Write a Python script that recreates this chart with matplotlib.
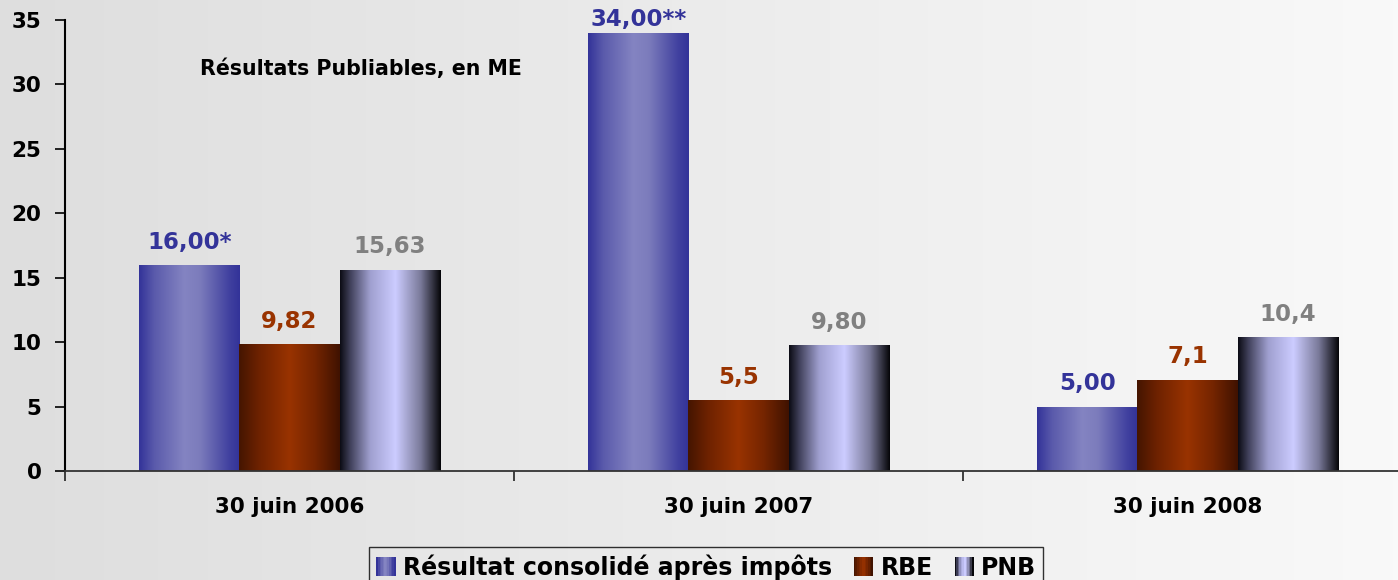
import numpy as np
import matplotlib
import matplotlib.pyplot as plt
from matplotlib.colors import LinearSegmentedColormap
from matplotlib.patches import Patch, Rectangle
from matplotlib.legend_handler import HandlerPatch

matplotlib.use("Agg")

plt.rcParams['font.family'] = ['DejaVu Sans']
plt.rcParams['font.weight'] = 'bold'

categories = ["30 juin 2006", "30 juin 2007", "30 juin 2008"]
series_names = ["Résultat consolidé après impôts", "RBE", "PNB"]
resultat = [16.00, 34.00, 5.00]
rbe = [9.82, 5.5, 7.1]
pnb = [15.63, 9.80, 10.4]
resultat_labels = ["16,00*", "34,00**", "5,00"]
rbe_labels = ["9,82", "5,5", "7,1"]
pnb_labels = ["15,63", "9,80", "10,4"]
title = "Résultats Publiables, en ME"

# gradient stops (position, colour) across each bar, left to right
grad_stops = [
    [(0.0, "#333399"), (0.15, "#5a5aab"), (0.45, "#8484c2"), (0.6, "#7c7cbc"), (0.9, "#40409f"), (1.0, "#333399")],
    [(0.0, "#451500"), (0.2, "#6e2200"), (0.5, "#993300"), (0.75, "#752500"), (1.0, "#401200")],
    [(0.0, "#0c0c14"), (0.1, "#40405a"), (0.3, "#a0a0d0"), (0.55, "#ccccff"), (0.8, "#7a7a9a"), (1.0, "#050508")],
]
label_colors = ["#333399", "#993300", "#808080"]

fig = plt.figure(figsize=(13.98, 5.8), dpi=100)

# background gradient
bg = fig.add_axes([0, 0, 1, 1])
bg.imshow(np.linspace(0, 1, 256).reshape(1, -1), aspect='auto',
          cmap=LinearSegmentedColormap.from_list("bg", ["#dedede", "#f9f9f9"]),
          extent=[0, 1, 0, 1])
bg.set_axis_off()

ax = fig.add_axes([65 / 1398, 1 - 471 / 580, 1 - 65 / 1398, (471 - 20) / 580])
ax.patch.set_alpha(0)

x = np.arange(len(categories))
width = 0.223
all_values = [resultat, rbe, pnb]
all_labels = [resultat_labels, rbe_labels, pnb_labels]
grad = np.linspace(0, 1, 256).reshape(1, -1)

for i, (vals, labs) in enumerate(zip(all_values, all_labels)):
    cmap = LinearSegmentedColormap.from_list("g%d" % i, grad_stops[i])
    bars = ax.bar(x + (i - 1) * width, vals, width, facecolor='none', edgecolor='none')
    for b, lab in zip(bars, labs):
        x0, y0 = b.get_x(), b.get_y()
        im = ax.imshow(grad, aspect='auto', cmap=cmap,
                       extent=[x0, x0 + b.get_width(), y0, y0 + b.get_height()],
                       zorder=2)
        im.set_clip_path(b)
        off = 8 if b.get_height() < 30 else 1
        ax.annotate(lab, (x0 + b.get_width() / 2, b.get_height()),
                    xytext=(0, off), textcoords='offset points',
                    ha='center', va='bottom', fontsize=16.5,
                    fontweight='bold', color=label_colors[i], annotation_clip=False)

ax.set_yticks(range(0, 36, 5))
ax.tick_params(axis='y', labelsize=15.5, length=7, width=1.2, pad=10)
ax.set_xticks([-0.5, 0.5, 1.5, 2.5])
ax.set_xticklabels([])
ax.tick_params(axis='x', which='major', length=7, width=1.2, color='#222222')
ax.set_xticks(x, minor=True)
ax.set_xticklabels(categories, minor=True)
ax.tick_params(axis='x', which='minor', length=0, labelsize=15.5, pad=19)
for t in ax.get_xticklabels(minor=True) + ax.get_yticklabels():
    t.set_fontweight('bold')
ax.set_xlim(-0.5, -0.5 + (1398 - 65) / 449)
ax.set_ylim(0, 35)

ax.spines['top'].set_visible(False)
ax.spines['right'].set_visible(False)
ax.spines['left'].set_linewidth(1.5)
ax.spines['bottom'].set_color('#333333')
ax.spines['bottom'].set_linewidth(1.3)

fig.text(200 / 1398, 1 - 69 / 580, title, fontsize=14.8, fontweight='bold', va='center')


class GradHandler(HandlerPatch):
    def __init__(self, cmap):
        super().__init__()
        self.cmap = cmap

    def create_artists(self, legend, orig_handle, xdescent, ydescent,
                       width, height, fontsize, trans):
        s = height
        x0 = -xdescent + (width - s) / 2
        arts = []
        n = 12
        for k in range(n):
            r = Rectangle((x0 + k * s / n, -ydescent), s / n + 0.3, s,
                          facecolor=self.cmap(k / (n - 1)),
                          edgecolor='none', transform=trans)
            arts.append(r)
        return arts


handles = [Patch(label=n) for n in series_names]
handler_map = {h: GradHandler(LinearSegmentedColormap.from_list("l%d" % i, grad_stops[i]))
               for i, h in enumerate(handles)}
leg = fig.legend(handles=handles, handler_map=handler_map, loc='upper center',
                 bbox_to_anchor=(706 / 1398, 1 - 547 / 580), ncol=3,
                 prop={'size': 17, 'weight': 'bold'}, frameon=True, fancybox=False,
                 handlelength=0.85, handleheight=0.85, handletextpad=0.3,
                 columnspacing=0.9, borderpad=0.3, borderaxespad=0)
leg.get_frame().set_edgecolor('black')
leg.get_frame().set_facecolor('none')
leg.get_frame().set_linewidth(1.0)

fig.savefig("out.png", dpi=100)
